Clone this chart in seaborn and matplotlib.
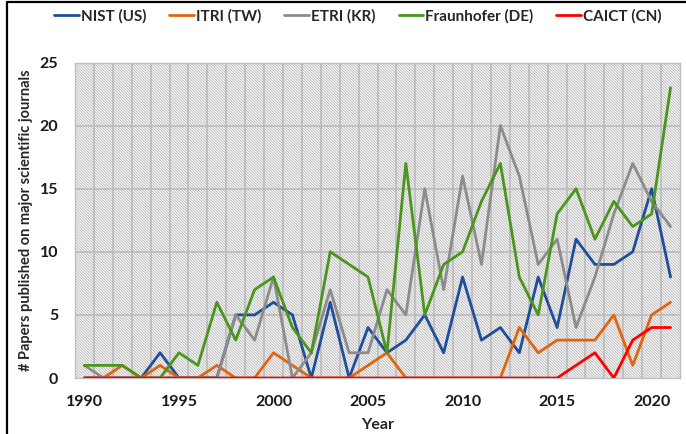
import numpy as np
import pandas as pd
import seaborn as sns
import matplotlib.pyplot as plt
from matplotlib.patches import Rectangle
from matplotlib.lines import Line2D

# data
years = list(range(1990, 2022))
nist = [0, 0, 0, 0, 2, 0, 0, 0, 5, 5, 6, 5, 0, 6, 0, 4, 2, 3, 5, 2, 8, 3, 4, 2, 8, 4, 11, 9, 9, 10, 15, 8]
itri = [0, 0, 1, 0, 1, 0, 0, 1, 0, 0, 2, 1, 0, 0, 0, 1, 2, 0, 0, 0, 0, 0, 0, 4, 2, 3, 3, 3, 5, 1, 5, 6]
etri = [1, 0, 0, 0, 0, 0, 0, 0, 5, 3, 8, 0, 2, 7, 2, 2, 7, 5, 15, 7, 16, 9, 20, 16, 9, 11, 4, 8, 13, 17, 14, 12]
fraunhofer = [1, 1, 1, 0, 0, 2, 1, 6, 3, 7, 8, 4, 2, 10, 9, 8, 2, 17, 5, 9, 10, 14, 17, 8, 5, 13, 15, 11, 14, 12, 13, 23]
caict = [0] * 26 + [1, 2, 0, 3, 4, 4]

series_names = ["NIST (US)", "ITRI (TW)", "ETRI (KR)", "Fraunhofer (DE)", "CAICT (CN)"]
series_vals = [nist, itri, etri, fraunhofer, caict]
colors = ["#1F4E9A", "#E2650E", "#8C8C8C", "#4A951C", "#FF0000"]

df = pd.concat(
    [pd.DataFrame({"Year": years, "Papers": v, "Org": n}) for n, v in zip(series_names, series_vals)],
    ignore_index=True,
)

sns.set_style("white")
plt.rcParams["font.family"] = ["Lato", "DejaVu Sans"]
plt.rcParams["font.weight"] = "bold"
plt.rcParams["hatch.linewidth"] = 0.7

fig = plt.figure(figsize=(6.86, 4.34), dpi=100)
ax = fig.add_axes([75 / 686, 56 / 434, 605 / 686, 315.5 / 434])

# hatched plot background (fine downward diagonal)
ax.add_patch(Rectangle((0, 0), 1, 1, transform=ax.transAxes, facecolor="white",
                       edgecolor="#bcbcbc", hatch="\\" * 12, lw=0, zorder=0))

# grid: between categories vertically, every 5 horizontally
for x in np.arange(1990.5, 2021.5, 1):
    ax.axvline(x, color="#b8b8b8", lw=1.1, zorder=1)
for y in range(5, 25, 5):
    ax.axhline(y, color="#b8b8b8", lw=1.1, zorder=1)

sns.lineplot(data=df, x="Year", y="Papers", hue="Org", palette=colors,
             linewidth=2.0, ax=ax, zorder=3, legend=False)

ax.set_xlim(1989.5, 2021.5)
ax.set_ylim(0, 25)
ax.set_xticks(range(1990, 2021, 5))
ax.set_yticks(range(0, 26, 5))
ax.tick_params(axis="x", length=0, pad=12, labelsize=11.5, labelcolor="#1a1a1a")
ax.tick_params(axis="y", length=0, pad=12, labelsize=11.5, labelcolor="#1a1a1a")
for lab in ax.get_xticklabels() + ax.get_yticklabels():
    lab.set_fontweight("bold")
for s in ax.spines.values():
    s.set_color("#bfbfbf")
    s.set_linewidth(1.0)

ax.set_xlabel("Year", fontsize=11.5, fontweight="bold", labelpad=7)
ax.set_ylabel("# Papers published on major scientific journals", fontsize=10.5, fontweight="bold")
ax.yaxis.set_label_coords(-0.07, 0.5)

handles = [Line2D([], [], color=c, lw=2) for c in colors]
fig.legend(handles, series_names, loc="center", bbox_to_anchor=(358 / 686, 1 - 16 / 434),
           ncol=5, frameon=False, handlelength=1.6, handletextpad=0.15, columnspacing=1.5,
           prop={"weight": "bold", "size": 11})

# black frame on top and left of the original figure
fig.add_artist(Line2D([7 / 686, 1], [1 - 2 / 434, 1 - 2 / 434], color="black", lw=1.6))
fig.add_artist(Line2D([7 / 686, 7 / 686], [0, 1 - 2 / 434], color="black", lw=1.6))

plt.savefig("out.png", dpi=100)
plt.close(fig)
